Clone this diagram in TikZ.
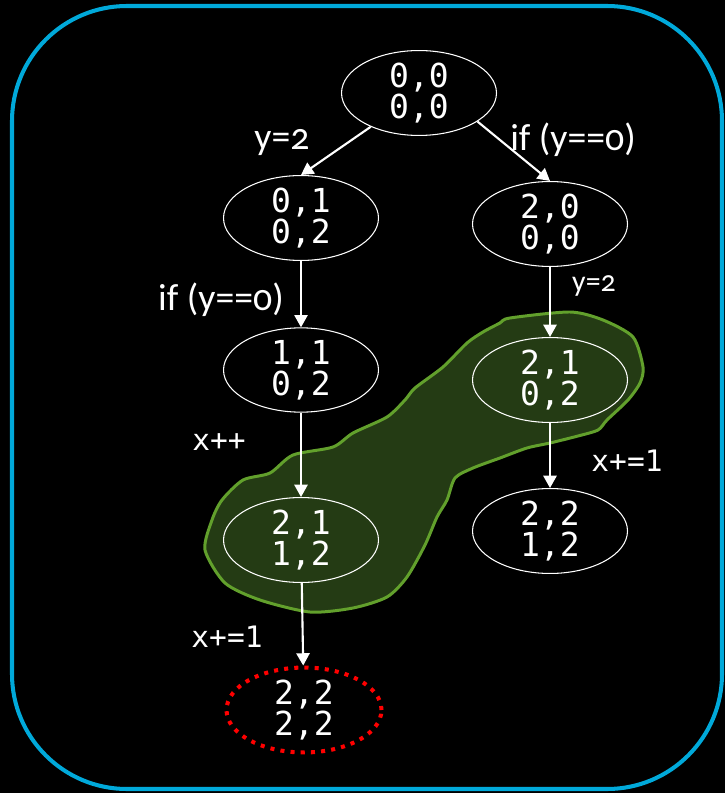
\documentclass[tikz,border=0pt]{standalone}
\usepackage{fontspec}
\setmainfont{Carlito}[Numbers=OldStyle]
\newfontfamily\codefont{DejaVu Sans Mono}
\usetikzlibrary{arrows.meta,shapes.geometric}
\definecolor{cFrame}{HTML}{00A9DA}
\definecolor{cBlobF}{HTML}{243B14}
\definecolor{cBlobD}{HTML}{62A02C}
\definecolor{cGoal}{HTML}{FF0000}
\tikzset{
  state/.style = {ellipse, draw=white, line width=0.6pt, minimum width=3.1cm,
                  minimum height=1.52cm, inner sep=0pt, text=white, align=center,
                  font=\codefont\fontsize{18.8}{15}\selectfont},
  goal/.style  = {state, draw=cGoal, line width=2.3pt, dash pattern=on 2.3pt off 3.5pt},
  trans/.style = {white, line width=1.2pt, -{Triangle[length=7pt,width=7.5pt]}},
  cond/.style  = {text=white, inner sep=0pt, font=\fontsize{21.5}{25}\selectfont},
  upd/.style   = {text=white, inner sep=0pt, font=\codefont\fontsize{16.8}{19}\selectfont},
  blob/.style  = {fill=cBlobF, draw=cBlobD, line width=1.7pt},
  frame/.style = {draw=cFrame, line width=2.3pt, rounded corners=2.3cm},
}
\begin{document}
\begin{tikzpicture}[x=0.02cm, y=-0.02cm]
  \fill[black] (0,0) rectangle (725,793);
  \useasboundingbox (0,0) rectangle (725,793);
  \draw[frame] (12,6) rectangle (722,789);
  % region of states sharing the same abstraction
  \draw[blob] plot[smooth cycle, tension=0.45] coordinates {
    (510,318) (570,312) (603,320) (633,337) (643,367) (640,383) (628,400)
    (607,420) (598,430) (578,436) (550,443) (527,448) (500,458) (473,468)
    (455,478) (447,500) (437,517) (425,545) (407,577) (387,597) (353,608)
    (310,612) (260,600) (225,583) (205,550) (212,520) (222,500) (243,480)
    (270,473) (293,455) (333,447) (353,433) (387,417) (405,400) (415,388)
    (443,367) (467,343) (483,332) (500,323)};
  \node[state] (s00) at (419,93) {0,0\\0,0};
  \node[state] (s01) at (301,218) {0,1\\0,2};
  \node[state] (s20) at (550,224) {2,0\\0,0};
  \node[state] (s11) at (301,370) {1,1\\0,2};
  \node[state] (s21r) at (550,380) {2,1\\0,2};
  \node[state] (s21l) at (301,540) {2,1\\1,2};
  \node[state] (s22r) at (550,531) {2,2\\1,2};
  \node[goal] (s22) at (304,710) {2,2\\2,2};
  \draw[trans] (s00.215) -- (s01.north);
  \draw[trans] (s00.334) -- (s20.north);
  \draw[trans] (s01) -- (s11);
  \draw[trans] (s20) -- (s21r);
  \draw[trans] (s11) -- (s21l);
  \draw[trans] (s21r) -- (s22r);
  \draw[trans] (s21l) -- (s22);
  \node[cond] (c1) at (282,143) {y=2};
  \node[cond] (c2) at (573,140) {if (y==0)};
  \node[cond] (c3) at (221,300) {if (y==0)};
  \node[cond, font=\fontsize{17}{20}\selectfont] (c4) at (594,286) {y=2};
  \node[upd] (u1) at (219,442) {x++};
  \node[upd] (u2) at (627,461) {x+=1};
  \node[upd] (u3) at (227,637) {x+=1};
\end{tikzpicture}
\end{document}
